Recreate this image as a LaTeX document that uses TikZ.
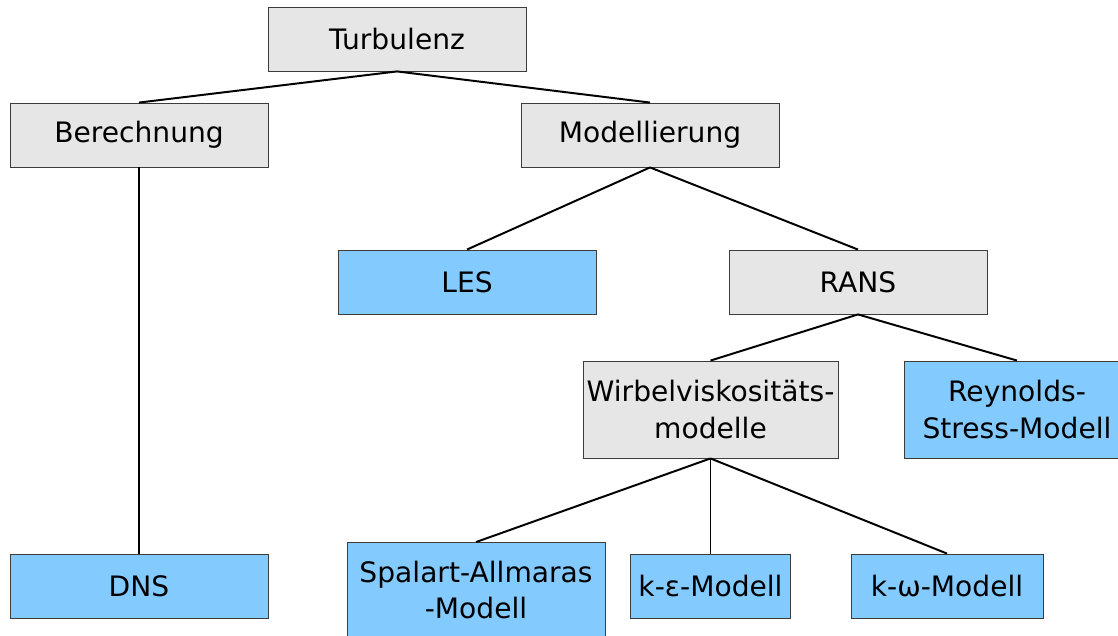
\documentclass[tikz,border=0pt]{standalone}
\usepackage{fontspec}
\setmainfont{DejaVu Sans}
\definecolor{boxgray}{HTML}{E6E6E6}
\definecolor{boxblue}{HTML}{83CAFF}
\definecolor{rimgray}{HTML}{3C3C3C}
\tikzset{link/.style={black, line width=1.4pt},
  box/.style={draw=rimgray, line width=0.6pt, inner sep=0pt, align=center,
    font=\fontsize{20}{26}\selectfont, minimum height=1.6cm, minimum width=6.45cm},
  greybox/.style={box, fill=boxgray},
  bluebox/.style={box, fill=boxblue}}

\begin{document}
\begin{tikzpicture}[x=0.025cm, y=-0.025cm]
  \useasboundingbox (0,0) rectangle (1118,636);
  \clip (0,0) rectangle (1118,636);
  \node[greybox] (turb) at ( 397, 39.0) {Turbulenz};
  \node[greybox] (ber)  at ( 139,135.0) {Berechnung};
  \node[greybox] (mod)  at ( 650,135.0) {Modellierung};
  \node[bluebox] (les)  at ( 467,282.0) {LES};
  \node[greybox] (rans) at ( 858,282.0) {RANS};
  \node[greybox, minimum width=6.375cm, minimum height=2.425cm] (wv) at (710.5,409.5) {Wirbelviskositäts-\\modelle};
  \node[bluebox, minimum width=5.65cm, minimum height=2.425cm] (rs) at (1017,409.5) {Reynolds-\\Stress-Modell};
  \node[bluebox] (dns)  at ( 139,586.0) {DNS};
  \node[bluebox, minimum height=2.375cm] (sa) at (476,590.0) {Spalart-Allmaras\\-Modell};
  \node[bluebox, minimum width=4.0cm] (ke) at (710.5,586.0) {k-ε-Modell};
  \node[bluebox, minimum width=4.8cm] (kw) at ( 947,586.0) {k-ω-Modell};
  \draw[link] (turb.south) -- (ber.north);
  \draw[link] (turb.south) -- (mod.north);
  \draw[link] (ber.south) -- (dns.north);
  \draw[link] (mod.south) -- (les.north);
  \draw[link] (mod.south) -- (rans.north);
  \draw[link] (rans.south) -- (wv.north);
  \draw[link] (rans.south) -- (rs.north);
  \draw[link] (wv.south) -- (sa.north);
  \draw[link] (wv.south) -- (ke.north);
  \draw[link] (wv.south) -- (kw.north);
\end{tikzpicture}
\end{document}
